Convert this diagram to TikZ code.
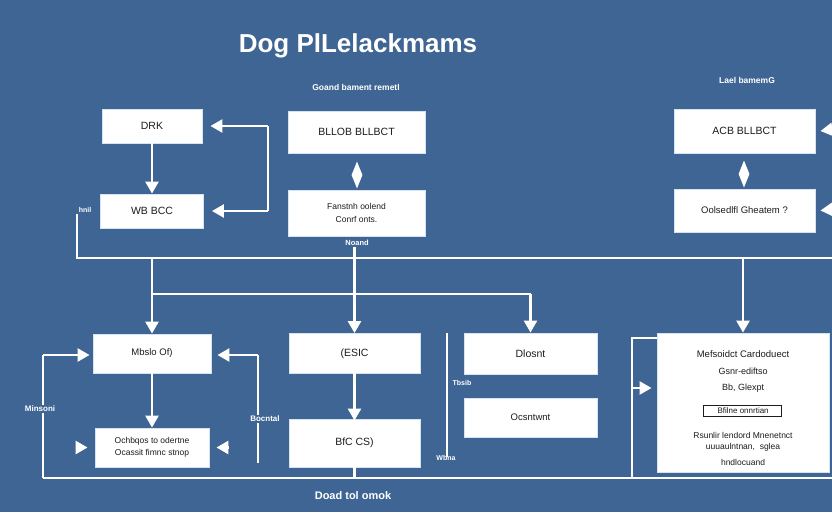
\documentclass[tikz,border=0pt]{standalone}
\usepackage{fontspec}
\setmainfont{Liberation Sans}
\usetikzlibrary{arrows.meta,shapes.geometric}
\definecolor{bgblue}{HTML}{3F6594}
\definecolor{boxedge}{HTML}{D6E4F2}
\definecolor{ink}{HTML}{1C1C1C}
\newcommand{\fsz}[1]{\fontsize{#1}{#1}\selectfont}
\tikzset{
  box/.style={draw=boxedge, fill=white, line width=0.9pt, text=ink, inner sep=0pt,
              align=center, font=\fsz{10.5}},
  smalltxt/.style={text=ink, inner sep=0pt, font=\fsz{8.5}},
  lbl/.style={text=white, inner sep=1pt, font=\bfseries\fsz{8}},
  wire/.style={draw=white, line width=2.6pt},
  arr/.style={wire, -{Triangle[width=13pt,length=12pt]}},
  kite/.style={diamond, fill=white, inner sep=0pt, minimum width=11pt, minimum height=27pt},
}
\begin{document}
\begin{tikzpicture}[x=1pt,y=-1pt]
  \fill[bgblue] (0,0) rectangle (832,512);
  \useasboundingbox (0,0) rectangle (832,512);
  \clip (0,0) rectangle (832,512);

  % headings
  \node[text=white, font=\bfseries\fsz{26}] (title) at (358,46) {Dog PlLelackmams};
  \node[lbl, font=\bfseries\fsz{8.5}] (capmid) at (356,87) {Goand bament remetl};
  \node[lbl, font=\bfseries\fsz{8.5}] (capright) at (747,80) {Lael bamemG};
  \node[lbl, font=\bfseries\fsz{11}] (footer) at (353,496) {Doad tol omok};

  % upper left pair with feedback loop
  \node[box, minimum width=100, minimum height=34] (drk) at (152,126) {DRK};
  \node[box, minimum width=103, minimum height=34] (wb) at (152,211) {WB BCC};
  \draw[arr] (drk.south) -- (wb.north);
  \coordinate (lt) at (268,126);
  \coordinate (lb) at (268,211);
  \draw[wire] (lt) -- (lb);
  \draw[arr] (lt) -- ([xshift=8]drk.east);
  \draw[arr] (lb) -- ([xshift=8]wb.east);

  % upper centre pair
  \node[box, minimum width=137, minimum height=42] (bl) at (356.5,132) {BLLOB BLLBCT};
  \node[box, minimum width=137, minimum height=46, font=\fsz{8.5}] (fan) at (356.5,213)
       {Fanstnh oolend\\[4pt]Conrf onts.};
  \node[kite] (kmid) at (357,175) {};
  \node[lbl, font=\bfseries\fsz{7.5}] (noand) at (357,243) {Noand};

  % upper right pair
  \node[box, minimum width=141, minimum height=44] (acb) at (744.5,131) {ACB BLLBCT};
  \node[box, minimum width=141, minimum height=43, font=\fsz{9.5}] (ool) at (744.5,210.5)
       {Oolsedlfl Gheatem ?};
  \node[kite] (kright) at (744,174) {};
  \coordinate (re1) at (850,127);
  \coordinate (re2) at (850,208);
  \draw[arr] (re1) -- ([xshift=5]acb.east);
  \draw[arr] (re2) -- ([xshift=5]ool.east);

  % distribution bus
  \node[lbl, font=\bfseries\fsz{7}] (hnil) at (85,210) {hnil};
  \coordinate (busL) at (77,258);
  \coordinate (busR) at (840,258);
  \draw[wire] (77,214) -- (busL) -- (busR);
  \coordinate (b1) at (152,258);
  \coordinate (b3) at (743,258);
  \coordinate (s1) at (152,294);
  \coordinate (s2) at (530.5,294);
  \draw[wire] (s1) -- (s2);

  % middle row
  \node[box, minimum width=118, minimum height=39, font=\fsz{9.5}] (main) at (152,353.5) {Mbslo Of)};
  \node[box, minimum width=114, minimum height=39, font=\fsz{8.5}] (och) at (152,447.5)
       {Ochbqos to odertne\\[3pt]Ocassit fimnc stnop};
  \node[box, minimum width=131, minimum height=40] (esc) at (354.5,353.5) {(ESIC};
  \node[box, minimum width=131, minimum height=48] (bfc) at (354.5,443) {BfC CS)};
  \node[box, minimum width=133, minimum height=41] (dlo) at (530.5,353.5) {Dlosnt};
  \node[box, minimum width=133, minimum height=39, font=\fsz{9.5}] (ocs) at (530.5,417.5) {Ocsntwnt};
  \node[box, minimum width=172, minimum height=139] (big) at (743,402.5) {};

  \draw[arr] (b1) -- (main.north);
  \draw[arr] (esc.north |- noand.south) -- (esc.north);
  \draw[arr] (s2) -- (dlo.north);
  \draw[arr] (b3) -- (big.north);

  \draw[arr] (main.south) -- (och.north);
  \draw[arr] ([yshift=10]esc.south) -- ([yshift=-2]bfc.north);

  % bottom return bus
  \coordinate (rtL) at (43,478);
  \coordinate (rtR) at (840,478);
  \draw[wire] (rtL) -- (rtR);
  \draw[wire] (bfc.south) -- (bfc.south |- rtL);

  % loops around the middle-left pair
  \coordinate (ll) at (43,355);
  \draw[wire] (rtL) -- (ll);
  \draw[arr] (ll) -- ([xshift=-3]main.west |- ll);
  \coordinate (rl) at (258,355);
  \draw[wire] (258,463) -- (rl);
  \draw[arr] (rl) -- ([xshift=6]main.east |- rl);
  \draw[arr] ([xshift=-19]och.west) -- ([xshift=-7]och.west);
  \draw[arr] ([xshift=19]och.east) -- ([xshift=7]och.east);
  \node[lbl, fill=bgblue] (minsoni) at (40,409) {Minsoni};
  \node[lbl, fill=bgblue] (bocntal) at (265,419) {Bocntal};

  % divider beside the right-centre pair
  \draw[wire, line width=2.2pt] (447,333) -- (447,457);
  \node[lbl, font=\bfseries\fsz{7}] (tbsib) at (462,383) {Tbsib};
  \node[lbl, font=\bfseries\fsz{7}] (wbna) at (446,458) {Wbna};

  % frame and feed into the large box
  \coordinate (fr) at (632,478);
  \coordinate (ft) at (632,338);
  \draw[wire, line width=2.2pt] (fr) -- (ft) -- (big.west |- ft);
  \draw[arr] (632,388) -- ([xshift=-5]big.west |- 0,388);

  % contents of the large box
  \node[smalltxt, font=\fsz{9.5}] (m1) at (743,354) {Mefsoidct Cardoduect};
  \node[smalltxt, font=\fsz{9}] (m2) at (743,371) {Gsnr-ediftso};
  \node[smalltxt, font=\fsz{9}] (m3) at (743,388) {Bb, Glexpt};
  \node[draw=ink, line width=0.9pt, minimum width=78, minimum height=11, inner sep=0pt,
        text=ink, font=\fsz{8}] (m4) at (742,411) {\ Bfilne onnrtian};
  \node[smalltxt, font=\fsz{8.5}] (m5) at (743,435) {Rsunlir lendord Mnenetnct};
  \node[smalltxt, font=\fsz{8.5}] (m6) at (743,447) {uuuaulntnan,\ \ sglea};
  \node[smalltxt, font=\fsz{8.5}] (m7) at (743,462) {hndlocuand};
\end{tikzpicture}
\end{document}
